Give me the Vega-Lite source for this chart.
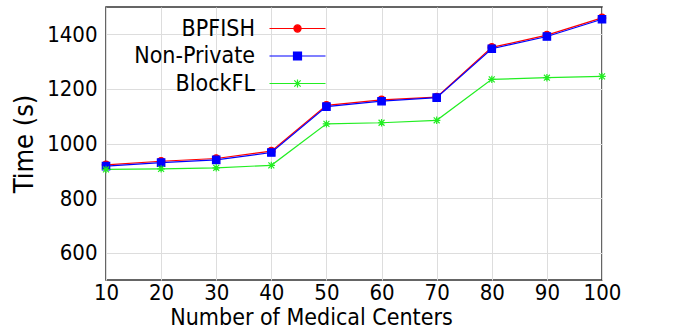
{
  "$schema": "https://vega.github.io/schema/vega-lite/v6.json",
  "width": 496,
  "height": 273,
  "autosize": {"type": "none"},
  "padding": {"left": 106, "top": 7, "right": 87, "bottom": 52},
  "background": "white",
  "config": {
    "font": "DejaVu Sans Condensed",
    "view": {"stroke": "#333333", "strokeWidth": 1.5},
    "axis": {"gridColor": "#dddddd", "gridWidth": 1, "domain": false, "ticks": false, "labelColor": "#000000", "titleColor": "#000000", "labelFont": "DejaVu Sans Condensed", "titleFont": "DejaVu Sans Condensed", "titleFontWeight": "normal"}
  },
  "data": {
    "values": [
      {"n": 10, "series": "BPFISH", "time": 922},
      {"n": 20, "series": "BPFISH", "time": 935},
      {"n": 30, "series": "BPFISH", "time": 945},
      {"n": 40, "series": "BPFISH", "time": 972},
      {"n": 50, "series": "BPFISH", "time": 1140},
      {"n": 60, "series": "BPFISH", "time": 1160},
      {"n": 70, "series": "BPFISH", "time": 1170},
      {"n": 80, "series": "BPFISH", "time": 1352},
      {"n": 90, "series": "BPFISH", "time": 1397},
      {"n": 100, "series": "BPFISH", "time": 1460},
      {"n": 10, "series": "Non-Private", "time": 917},
      {"n": 20, "series": "Non-Private", "time": 930},
      {"n": 30, "series": "Non-Private", "time": 940},
      {"n": 40, "series": "Non-Private", "time": 967},
      {"n": 50, "series": "Non-Private", "time": 1135},
      {"n": 60, "series": "Non-Private", "time": 1155},
      {"n": 70, "series": "Non-Private", "time": 1168},
      {"n": 80, "series": "Non-Private", "time": 1347},
      {"n": 90, "series": "Non-Private", "time": 1392},
      {"n": 100, "series": "Non-Private", "time": 1455},
      {"n": 10, "series": "BlockFL", "time": 905},
      {"n": 20, "series": "BlockFL", "time": 907},
      {"n": 30, "series": "BlockFL", "time": 911},
      {"n": 40, "series": "BlockFL", "time": 920},
      {"n": 50, "series": "BlockFL", "time": 1072},
      {"n": 60, "series": "BlockFL", "time": 1076},
      {"n": 70, "series": "BlockFL", "time": 1085},
      {"n": 80, "series": "BlockFL", "time": 1235},
      {"n": 90, "series": "BlockFL", "time": 1241},
      {"n": 100, "series": "BlockFL", "time": 1246}
    ]
  },
  "encoding": {
    "x": {
      "field": "n", "type": "quantitative",
      "scale": {"domain": [10, 100], "nice": false, "zero": false},
      "axis": {"values": [10, 20, 30, 40, 50, 60, 70, 80, 90, 100], "title": "Number of Medical Centers", "labelFontSize": 22, "titleFontSize": 23, "labelPadding": 2, "titlePadding": 3, "titleX": 205, "labelFlush": false}
    },
    "y": {
      "field": "time", "type": "quantitative",
      "scale": {"domain": [500, 1500], "nice": false, "zero": false},
      "axis": {"values": [600, 800, 1000, 1200, 1400], "format": "d", "title": "Time (s)", "labelFontSize": 22, "titleFontSize": 27, "labelPadding": 9, "titlePadding": 8}
    }
  },
  "layer": [
    {
      "mark": {"type": "line", "strokeWidth": 1.2},
      "encoding": {
        "color": {
          "field": "series", "type": "nominal",
          "scale": {"domain": ["BPFISH", "Non-Private", "BlockFL"], "range": ["#ff0000", "#0000ff", "#22ee22"]},
          "sort": ["BPFISH", "Non-Private", "BlockFL"],
          "legend": {
            "title": null, "orient": "none", "legendX": 180, "legendY": 10,
            "labelAlign": "right", "labelOffset": -54, "labelFontSize": 23, "labelFont": "DejaVu Sans Condensed", "labelColor": "#000000",
            "symbolSize": 64, "symbolStrokeWidth": 1.2, "rowPadding": 3.5, "padding": 0,
            "encode": {
              "symbols": {
                "update": {
                  "shape": {"signal": "datum.value === 'BPFISH' ? 'M-7,0H7M0.9,0A0.9,0.9,0,1,1,-0.9,0A0.9,0.9,0,1,1,0.9,0Z' : (datum.value === 'Non-Private' ? 'M-7,0H7M-1,-1H1V1H-1Z' : 'M-7,0H7M0,-1V1M-0.8,-0.8L0.8,0.8M-0.8,0.8L0.8,-0.8')"},
                  "fill": {"scale": "color", "field": "value"},
                  "stroke": {"scale": "color", "field": "value"},
                  "strokeWidth": {"value": 1.2},
                  "opacity": {"value": 1}
                }
              }
            }
          }
        },
        "order": {"field": "n", "type": "quantitative"}
      }
    },
    {
      "mark": {"type": "point", "filled": true, "opacity": 1, "strokeWidth": 1.2, "size": 55},
      "encoding": {
        "fill": {
          "field": "series", "type": "nominal",
          "scale": {"domain": ["BPFISH", "Non-Private", "BlockFL"], "range": ["#ff0000", "#0000ff", "#22ee22"]},
          "legend": null
        },
        "stroke": {
          "field": "series", "type": "nominal",
          "scale": {"domain": ["BPFISH", "Non-Private", "BlockFL"], "range": ["#ff0000", "#0000ff", "#22ee22"]},
          "legend": null
        },
        "shape": {
          "field": "series", "type": "nominal",
          "scale": {"domain": ["BlockFL", "BPFISH", "Non-Private"], "range": ["M-1,0H1M0,-1V1M-0.8,-0.8L0.8,0.8M-0.8,0.8L0.8,-0.8", "circle", "square"]},
          "legend": null
        }
      }
    }
  ]
}
